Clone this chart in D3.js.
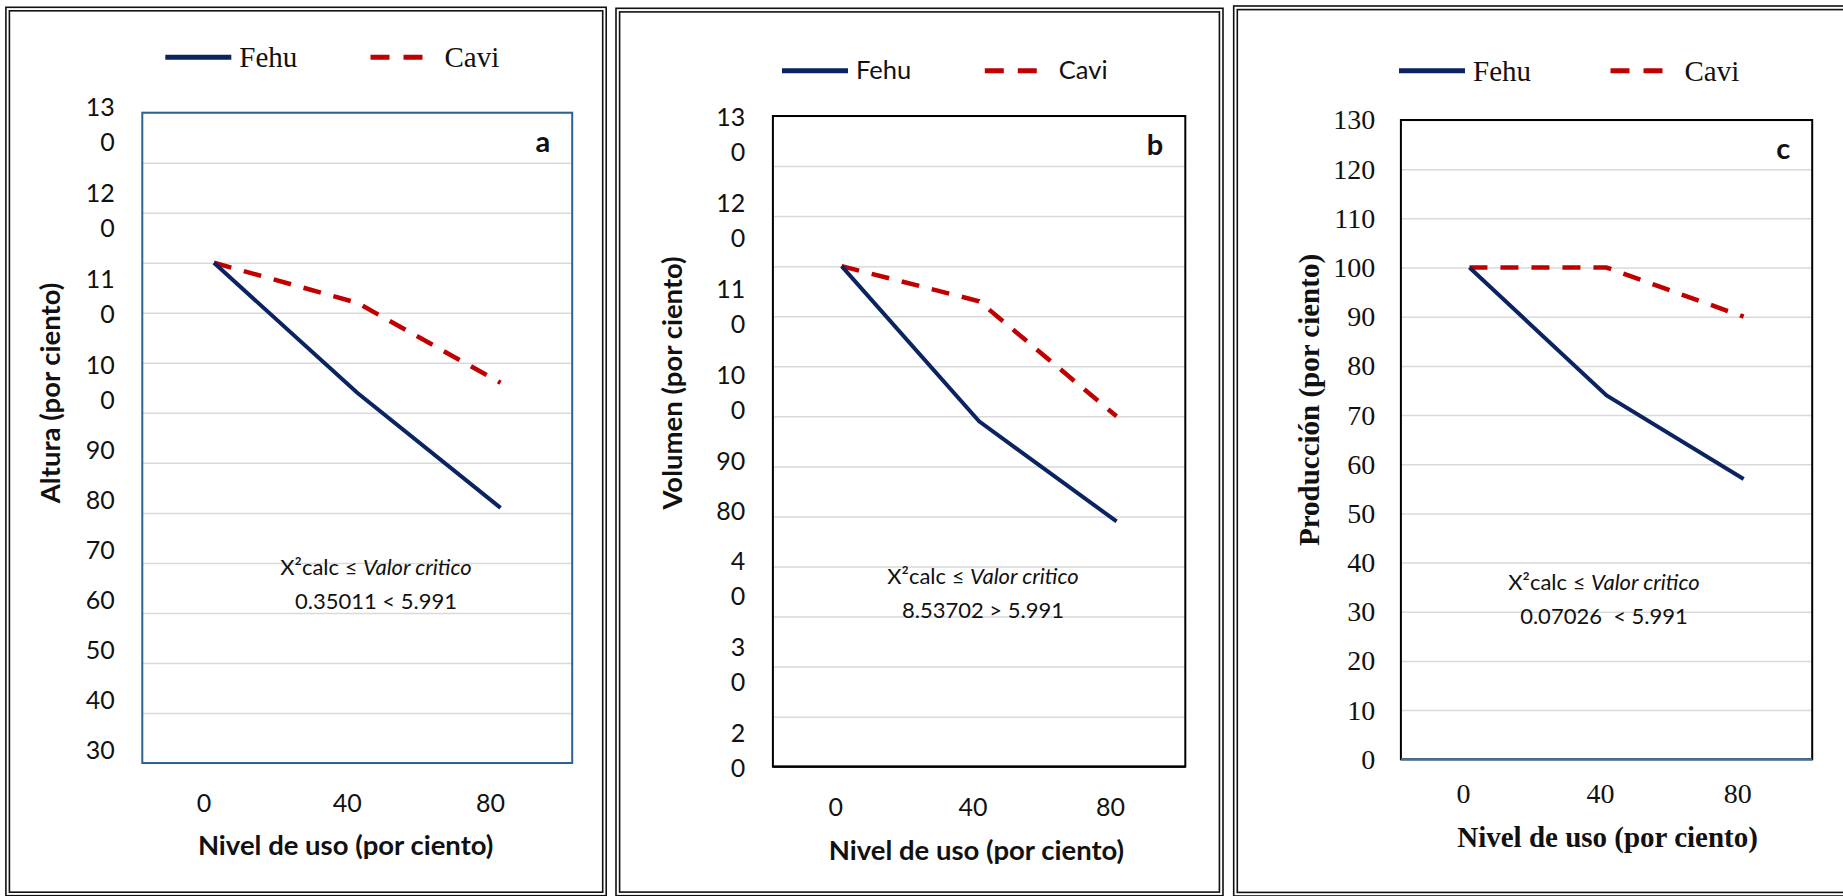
<!DOCTYPE html>
<html>
<head>
<meta charset="utf-8">
<script src="https://cdn.jsdelivr.net/npm/d3@7"></script>
<style>
  body { margin: 0; background: #fff; }
  svg { display: block; }
</style>
</head>
<body>
<script>
// values (per cent of the 0 % level)
var niveles = ["0", "40", "80"];
var alturaFehu = [100, 74, 51];
var alturaCavi = [100, 92, 76];
var volumenFehu = [100, 69, 49];
var volumenCavi = [100, 93, 70];
var produccionFehu = [100, 74, 57];
var produccionCavi = [100, 100, 90];
var gridValues = d3.range(0, 131, 10);
// tick labels of panels a and b, wrapped the way they show up in the figure
var ticksA = ["13\n0", "12\n0", "11\n0", "10\n0", "90", "80", "70", "60", "50", "40", "30"];
var ticksB = ["13\n0", "12\n0", "11\n0", "10\n0", "90", "80", "4\n0", "3\n0", "2\n0"];
var chiA = "0.35011 < 5.991";
var chiB = "8.53702 > 5.991";
var chiC = "0.07026 \u00a0< 5.991";

var sans = "Lato, 'Open Sans', sans-serif";
var serif = "'Liberation Serif', 'Times New Roman', serif";
var navy = "#0b2361", red = "#c00000";

var svg = d3.select("body").append("svg")
    .attr("width", 1843)
    .attr("height", 896);

var panels = [
  {id: "a", frame: [5.9, 7.3, 606.2, 895.7], inner: 3.5,
   plot: [142.3, 112.7, 572.2, 763], border: "#2f6294", bottom: "#2f6294",
   fehu: alturaFehu, cavi: alturaCavi, ticks: ticksA, tickShift: -13,
   yTitle: "Altura (por ciento)", yTitleX: 50, yTitleY: 393,
   font: sans, tickSize: 25, titleSize: 27.5,
   legendX: 165.3, cavX: 370.5, legendY: 57.3, legendFont: serif, legendSize: 29,
   chi: chiA, chiX: 376, chiY: 567,
   xTickY: 803, xTickDx: -10, xTitleX: 345.6, xTitleY: 845},
  {id: "b", frame: [616, 8.3, 1223, 895.7], inner: 3.6,
   plot: [772.9, 116, 1185.3, 766.7], border: "#000", bottom: "#000",
   fehu: volumenFehu, cavi: volumenCavi, ticks: ticksB, tickShift: -16,
   yTitle: "Volumen (por ciento)", yTitleX: 672, yTitleY: 383,
   font: sans, tickSize: 25, titleSize: 27.5,
   legendX: 782, cavX: 984.8, legendY: 70.7, legendFont: sans, legendSize: 25.5,
   chi: chiB, chiX: 983, chiY: 576,
   xTickY: 806.7, xTickDx: -6, xTitleX: 976.4, xTitleY: 850},
  {id: "c", frame: [1233.7, 6, 1860, 896], inner: 3.6,
   plot: [1400.9, 120, 1812.2, 759.3], border: "#000", bottom: "#41719c",
   fehu: produccionFehu, cavi: produccionCavi, ticks: null,
   yTitle: "Producci\u00f3n (por ciento)", yTitleX: 1309, yTitleY: 400,
   font: serif, tickSize: 28, titleSize: 29,
   legendX: 1399, cavX: 1610.5, legendY: 70.7, legendFont: serif, legendSize: 29,
   chi: chiC, chiX: 1604, chiY: 582,
   xTickY: 793, xTickDx: -6, xTitleX: 1607.6, xTitleY: 837}
];

panels.forEach(function(p) {
  var g = svg.append("g");
  var L = p.plot[0], T = p.plot[1], R = p.plot[2], B = p.plot[3];

  // double frame round the panel
  [0, p.inner].forEach(function(o) {
    g.append("rect")
      .attr("x", p.frame[0] + o).attr("y", p.frame[1] + o)
      .attr("width", p.frame[2] - p.frame[0] - 2 * o)
      .attr("height", p.frame[3] - p.frame[1] - 2 * o)
      .attr("fill", "none").attr("stroke", "#111").attr("stroke-width", 1.6);
  });

  var x = d3.scaleBand().domain(niveles).range([L, R]);
  var y = d3.scaleLinear().domain([0, 130]).range([B, T]);

  // gridlines
  var grid = g.append("g").attr("transform", "translate(" + L + ",0)")
    .call(d3.axisLeft(y).tickValues(gridValues).tickSize(-(R - L)).tickFormat(""));
  grid.select(".domain").remove();
  grid.selectAll("line").attr("stroke", "#d9d9d9").attr("stroke-width", 1.5);

  // plot border
  g.append("rect").attr("x", L).attr("y", T).attr("width", R - L).attr("height", B - T)
    .attr("fill", "none").attr("stroke", p.border).attr("stroke-width", 2);
  g.append("line").attr("x1", L).attr("x2", R).attr("y1", B).attr("y2", B)
    .attr("stroke", p.bottom).attr("stroke-width", 2.2);

  // y tick labels
  if (p.ticks) {
    // labels of a and b are stacked up from the bottom, wrapped ones take more room
    var lh = 35, hOne = 50, hTwo = 86;
    var list = p.ticks.slice().reverse();
    var yc = B + p.tickShift, prev = null;
    list.forEach(function(t) {
      var lines = t.split("\n");
      var h = lines.length > 1 ? hTwo : hOne;
      if (prev !== null) yc -= (prev + h) / 2;
      prev = h;
      var txt = g.append("text")
        .attr("text-anchor", "end")
        .style("font-family", p.font).style("font-size", p.tickSize + "px").attr("fill", "#111");
      lines.forEach(function(ln, j) {
        txt.append("tspan")
          .attr("x", L - 27.6)
          .attr("y", yc + (j - (lines.length - 1) / 2) * lh)
          .attr("dy", "0.36em")
          .text(ln);
      });
    });
  } else {
    var ya = g.append("g").attr("transform", "translate(" + L + ",0)")
      .call(d3.axisLeft(y).tickValues(gridValues).tickSize(0).tickPadding(25.7));
    ya.select(".domain").remove();
    ya.attr("font-family", null).attr("font-size", null);
    ya.selectAll("text").style("font-family", p.font).style("font-size", p.tickSize + "px")
      .attr("fill", "#111");
  }

  // x tick labels
  var xa = g.append("g").attr("transform", "translate(0," + p.xTickY + ")")
    .call(d3.axisBottom(x).tickSize(0).tickPadding(0));
  xa.select(".domain").remove();
  xa.attr("font-family", null).attr("font-size", null);
  xa.selectAll("text").attr("y", 0).attr("dy", "0.36em").attr("dx", p.xTickDx)
    .style("font-family", p.font).style("font-size", p.tickSize + "px").attr("fill", "#111");

  // series
  var line = d3.line()
    .x(function(d, i) { return x(niveles[i]) + x.bandwidth() / 2; })
    .y(function(d) { return y(d); });
  g.append("path").datum(p.cavi).attr("d", line)
    .attr("fill", "none").attr("stroke", red).attr("stroke-width", 4.5)
    .attr("stroke-dasharray", "18,13");
  g.append("path").datum(p.fehu).attr("d", line)
    .attr("fill", "none").attr("stroke", navy).attr("stroke-width", 4);

  // panel letter
  g.append("text").attr("x", R - 22).attr("y", T + 39).attr("text-anchor", "end")
    .attr("font-family", sans).attr("font-weight", "bold").attr("font-size", 29)
    .attr("fill", "#111").text(p.id);

  // chi-square note
  var t1 = g.append("text").attr("x", p.chiX).attr("y", p.chiY).attr("dy", "0.36em")
    .attr("text-anchor", "middle").attr("font-family", sans).attr("font-size", 22).attr("fill", "#111");
  t1.append("tspan").text("X\u00b2calc \u2264 ");
  t1.append("tspan").attr("font-style", "italic").text("Valor critico");
  g.append("text").attr("x", p.chiX).attr("y", p.chiY + 34).attr("dy", "0.36em")
    .attr("text-anchor", "middle").attr("font-family", sans).attr("font-size", 22)
    .attr("fill", "#111").text(p.chi);

  // axis titles
  g.append("text").attr("x", p.xTitleX).attr("y", p.xTitleY).attr("dy", "0.36em")
    .attr("text-anchor", "middle").attr("font-family", p.font).attr("font-weight", "bold")
    .attr("font-size", p.titleSize).attr("fill", "#111").text("Nivel de uso (por ciento)");
  g.append("text")
    .attr("transform", "translate(" + p.yTitleX + "," + p.yTitleY + ") rotate(-90)")
    .attr("dy", "0.36em").attr("text-anchor", "middle").attr("font-family", p.font)
    .attr("font-weight", "bold").attr("font-size", p.titleSize).attr("fill", "#111")
    .text(p.yTitle);

  // legend
  var leg = g.append("g");
  leg.append("line").attr("x1", p.legendX).attr("x2", p.legendX + 66)
    .attr("y1", p.legendY).attr("y2", p.legendY)
    .attr("stroke", navy).attr("stroke-width", 5);
  leg.append("text").attr("x", p.legendX + 74).attr("y", p.legendY).attr("dy", "0.34em")
    .attr("font-family", p.legendFont).attr("font-size", p.legendSize).attr("fill", "#111").text("Fehu");
  leg.append("line").attr("x1", p.cavX).attr("x2", p.cavX + 66)
    .attr("y1", p.legendY).attr("y2", p.legendY)
    .attr("stroke", red).attr("stroke-width", 5).attr("stroke-dasharray", "19,14");
  leg.append("text").attr("x", p.cavX + 74).attr("y", p.legendY).attr("dy", "0.34em")
    .attr("font-family", p.legendFont).attr("font-size", p.legendSize).attr("fill", "#111").text("Cavi");
});
</script>
</body>
</html>
